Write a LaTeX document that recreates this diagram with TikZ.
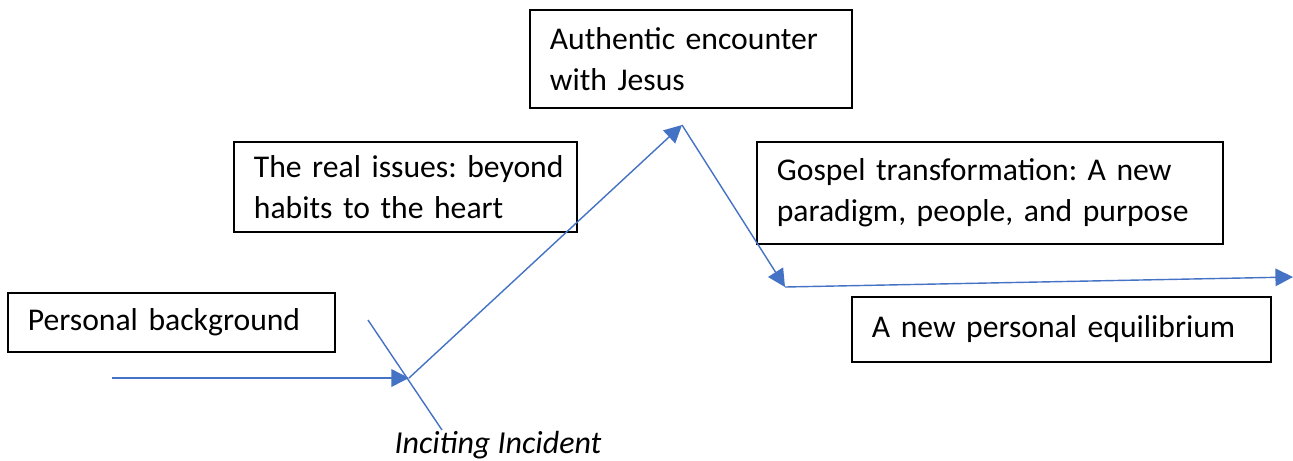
\documentclass[tikz,border=0pt]{standalone}
\usepackage{fontspec}
\setmainfont{Carlito}
\usetikzlibrary{arrows.meta}
\definecolor{lineblue}{HTML}{4472C4}

\begin{document}
\begin{tikzpicture}[x=0.01cm,y=-0.01cm,thin,
				box node/.style = {draw, inner sep = 0pt, inner xsep = 0.2cm, align = left, font = \fontsize{9}{11.7}\selectfont\frenchspacing},
				story line/.style = {color = lineblue, line width = 0.4pt},
				arrow tip/.style = {-{Triangle[length=5pt,width=5pt]}}]
				
				\useasboundingbox (0,0) rectangle (1293,460);
				
				\node[box node, text width = 2.87cm, minimum height = 0.59cm] at (171.5,322.5) (1) {\mbox{Personal background}};
				\node[box node, text width = 3.03cm, minimum height = 0.90cm] at (405.5,187) (2) {\mbox{The real issues: beyond}\\\mbox{habits to the heart}};
				\node[box node, text width = 2.82cm, minimum height = 0.98cm] at (691,59) (3) {\mbox{Authentic encounter}\\\mbox{with Jesus}};
				\node[box node, text width = 4.26cm, minimum height = 1.02cm] at (990,193) (4) {\mbox{Gospel transformation: A new}\\\mbox{paradigm, people, and purpose}};
				\node[box node, text width = 3.79cm, minimum height = 0.65cm] at (1061.5,329.5) (5) {\mbox{A new personal equilibrium}};
				\node[font = \fontsize{9.1}{11.7}\selectfont\itshape] at (498,445) (6) {Inciting Incident};
				
				\coordinate (7) at (112,378);
				\coordinate (8) at (409,378);
				\coordinate (9) at (682,125);
				\coordinate (10) at (785,287);
				\coordinate (11) at (1293,277);
				\coordinate (12) at (368,320);
				\coordinate (13) at (442,430);
				
				\path[story line]
				(7) edge[arrow tip] (8)
				(8) edge[arrow tip] (9)
				(9) edge[arrow tip] (10)
				(10) edge[arrow tip] (11)
				(12) edge (13);
\end{tikzpicture}
\end{document}
